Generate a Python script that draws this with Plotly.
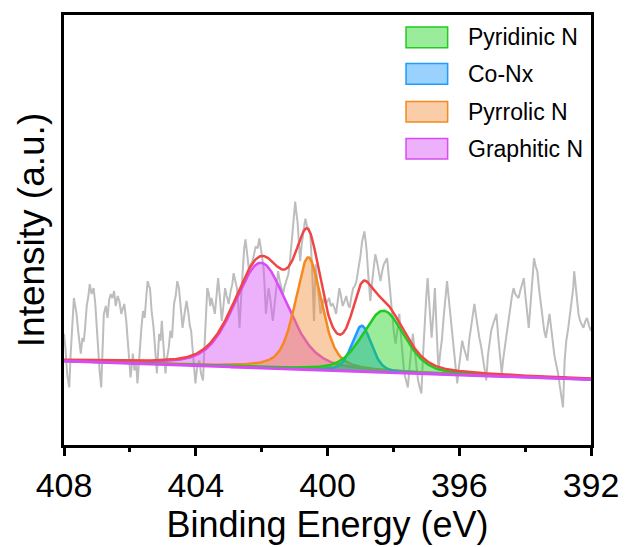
import numpy as np
import plotly.graph_objects as go

# ---------------- data ----------------
# raw N 1s spectrum: binding energy (eV) and intensity (a.u.)
be_raw = [
    408.00, 407.95, 407.90, 407.84, 407.80, 407.75, 407.70, 407.66, 407.62, 407.57,
    407.52, 407.49, 407.44, 407.40, 407.36, 407.31, 407.26, 407.22, 407.16, 407.10,
    407.05, 407.01, 406.97, 406.92, 406.87, 406.83, 406.79, 406.73, 406.68, 406.63,
    406.58, 406.53, 406.48, 406.43, 406.37, 406.32, 406.26, 406.21, 406.17, 406.11,
    406.06, 406.02, 405.98, 405.94, 405.91, 405.86, 405.81, 405.77, 405.72, 405.68,
    405.65, 405.60, 405.55, 405.50, 405.46, 405.42, 405.39, 405.34, 405.28, 405.23,
    405.18, 405.14, 405.11, 405.07, 405.03, 404.98, 404.92, 404.87, 404.82, 404.77,
    404.72, 404.66, 404.61, 404.56, 404.51, 404.46, 404.40, 404.35, 404.28, 404.22,
    404.18, 404.14, 404.09, 404.05, 404.01, 403.96, 403.89, 403.84, 403.78, 403.74,
    403.70, 403.65, 403.60, 403.56, 403.52, 403.47, 403.42, 403.37, 403.32, 403.27,
    403.21, 403.16, 403.11, 403.06, 403.00, 402.94, 402.89, 402.85, 402.80, 402.75,
    402.71, 402.67, 402.62, 402.57, 402.53, 402.49, 402.44, 402.38, 402.33, 402.28,
    402.23, 402.18, 402.12, 402.07, 402.01, 401.94, 401.91, 401.87, 401.83, 401.79,
    401.74, 401.70, 401.66, 401.61, 401.55, 401.50, 401.45, 401.40, 401.35, 401.30,
    401.24, 401.19, 401.14, 401.09, 401.04, 400.98, 400.95, 400.91, 400.87, 400.83,
    400.79, 400.74, 400.70, 400.67, 400.62, 400.57, 400.52, 400.47, 400.43, 400.41,
    400.38, 400.36, 400.31, 400.26, 400.21, 400.16, 400.11, 400.05, 400.00, 399.95,
    399.90, 399.84, 399.79, 399.74, 399.69, 399.64, 399.59, 399.54, 399.48, 399.43,
    399.38, 399.33, 399.27, 399.22, 399.17, 399.12, 399.06, 399.00, 398.95, 398.91,
    398.88, 398.84, 398.81, 398.76, 398.72, 398.70, 398.66, 398.60, 398.55, 398.50,
    398.44, 398.39, 398.34, 398.29, 398.24, 398.19, 398.14, 398.08, 398.03, 397.98,
    397.93, 397.87, 397.82, 397.77, 397.72, 397.67, 397.62, 397.56, 397.51, 397.46,
    397.41, 397.36, 397.30, 397.25, 397.20, 397.15, 397.10, 397.05, 397.00, 396.96,
    396.91, 396.84, 396.79, 396.74, 396.69, 396.63, 396.58, 396.53, 396.47, 396.42,
    396.37, 396.32, 396.27, 396.22, 396.16, 396.11, 396.06, 396.01, 395.96, 395.91,
    395.86, 395.80, 395.75, 395.70, 395.64, 395.59, 395.54, 395.49, 395.44, 395.39,
    395.34, 395.28, 395.23, 395.18, 395.13, 395.08, 395.03, 394.97, 394.92, 394.87,
    394.82, 394.76, 394.71, 394.66, 394.61, 394.56, 394.50, 394.45, 394.40, 394.35,
    394.30, 394.25, 394.20, 394.15, 394.09, 394.04, 393.99, 393.94, 393.89, 393.84,
    393.78, 393.73, 393.68, 393.63, 393.58, 393.52, 393.47, 393.42, 393.37, 393.32,
    393.26, 393.21, 393.16, 393.11, 393.05, 393.00, 392.95, 392.90, 392.85, 392.80,
    392.75, 392.69, 392.64, 392.59, 392.54, 392.51, 392.47, 392.43, 392.38, 392.33,
    392.28, 392.23, 392.17, 392.12, 392.06, 392.00]
int_raw = [
    112, 95, 70, 58, 90, 120, 148, 140, 132, 115,
    100, 92, 108, 104, 118, 140, 150, 162, 152, 158,
    142, 120, 98, 75, 58, 95, 132, 140, 128, 146,
    152, 148, 155, 140, 150, 145, 132, 138, 142, 125,
    102, 85, 68, 80, 92, 75, 85, 62, 90, 105,
    118, 135, 128, 150, 165, 160, 158, 135, 118, 95,
    72, 95, 112, 105, 125, 100, 72, 88, 98, 115,
    108, 142, 150, 165, 158, 140, 118, 130, 145, 132,
    120, 115, 95, 75, 62, 78, 85, 72, 65, 95,
    130, 158, 152, 140, 148, 138, 132, 150, 168, 150,
    125, 140, 158, 150, 142, 155, 162, 173, 165, 158,
    140, 118, 150, 180, 198, 207, 190, 175, 182, 185,
    192, 200, 198, 208, 195, 178, 160, 132, 145, 158,
    148, 135, 125, 140, 160, 175, 165, 158, 152, 160,
    168, 172, 185, 202, 225, 245, 235, 225, 205, 185,
    200, 215, 222, 228, 220, 218, 212, 180, 145, 125,
    160, 182, 165, 150, 132, 140, 148, 142, 145, 148,
    140, 142, 138, 132, 145, 158, 150, 140, 145, 150,
    142, 138, 150, 158, 160, 165, 178, 190, 205, 212,
    215, 205, 195, 170, 152, 145, 160, 178, 192, 185,
    172, 165, 175, 182, 185, 188, 170, 145, 125, 112,
    102, 118, 132, 110, 88, 72, 66, 58, 78, 95,
    112, 98, 80, 65, 58, 52, 90, 125, 150, 168,
    140, 108, 130, 158, 118, 75, 92, 105, 130, 150,
    165, 148, 130, 118, 98, 80, 62, 78, 92, 105,
    98, 90, 85, 105, 118, 130, 142, 130, 118, 108,
    100, 88, 75, 65, 90, 105, 115, 122, 128, 132,
    110, 90, 72, 88, 100, 115, 130, 142, 150, 158,
    152, 150, 148, 155, 162, 168, 150, 135, 118, 140,
    165, 188, 180, 175, 158, 140, 125, 115, 108, 118,
    132, 118, 102, 90, 80, 72, 60, 48, 38, 85,
    105, 118, 132, 145, 158, 175, 160, 145, 132, 125,
    122, 118, 125, 128, 120, 115]

# linear background (intensity at 408 eV and at 392 eV)
bg_energy = [408.0, 392.0]
bg_level = [84.5, 66.0]

# fitted components
comp_names = ["Pyridinic N", "Co-Nx", "Pyrrolic N", "Graphitic N"]
comp_center = [398.30, 398.96, 400.58, 402.02]
comp_height = [62, 46, 113, 106]
comp_fwhm = [1.50, 0.70, 0.95, 1.90]
comp_lmix = [0.35, 0.35, 0.50, 0.35]

# ---------------- styles ----------------
line_cols = ["#1ECB1E", "#1E9BFF", "#F5891F", "#D84CF5"]
fill_cols = ["rgba(30,210,30,0.45)", "rgba(30,155,255,0.45)",
             "rgba(240,135,45,0.42)", "rgba(215,80,245,0.45)"]
FONT = "Liberation Sans, Arial, sans-serif"

E = np.linspace(408, 392, 801)
base = np.interp(E, bg_energy[::-1], bg_level[::-1])


def pvoigt(x, c, h, w, m):
    t = 4.0 * ((x - c) / w) ** 2
    return h * ((1 - m) * np.exp(-np.log(2) * t) + m / (1 + t))


comps = [pvoigt(E, c, h, w, m) for c, h, w, m in
         zip(comp_center, comp_height, comp_fwhm, comp_lmix)]
envelope = base + np.sum(comps, axis=0)

fig = go.Figure()
fig.add_trace(go.Scatter(x=be_raw, y=int_raw, mode="lines",
                         line=dict(color="#BDBDBD", width=2), showlegend=False))

for i in [3, 2, 1, 0]:
    fig.add_trace(go.Scatter(x=E, y=base, mode="lines", line=dict(width=0),
                             showlegend=False, hoverinfo="skip"))
    fig.add_trace(go.Scatter(x=E, y=base + comps[i], mode="lines", fill="tonexty",
                             fillcolor=fill_cols[i], line=dict(color=line_cols[i], width=2.5),
                             name=comp_names[i], showlegend=False))

fig.add_trace(go.Scatter(x=E, y=envelope, mode="lines",
                         line=dict(color="#F04545", width=2.5), showlegend=False))
fig.add_trace(go.Scatter(x=E, y=base, mode="lines",
                         line=dict(color="#D84CF5", width=3), showlegend=False))

# manual legend (boxes + labels in paper coordinates)
leg_y = [0.948, 0.863, 0.775, 0.689]
for i, name in enumerate(comp_names):
    fig.add_shape(type="rect", xref="paper", yref="paper",
                  x0=0.649, x1=0.728, y0=leg_y[i] - 0.024, y1=leg_y[i] + 0.024,
                  fillcolor=fill_cols[i], line=dict(color=line_cols[i], width=1.5))
    fig.add_annotation(xref="paper", yref="paper", x=0.762, y=leg_y[i],
                       text=name, showarrow=False, xanchor="left", yanchor="middle",
                       font=dict(family=FONT, size=23, color="black"))

fig.update_layout(
    width=631, height=547,
    margin=dict(l=64, r=35, t=15, b=98),
    paper_bgcolor="white", plot_bgcolor="white",
    font=dict(family=FONT, color="black"),
    xaxis=dict(range=[408, 392], tickvals=[408, 404, 400, 396, 392],
               ticks="outside", ticklen=8, tickwidth=2.5, tickcolor="black",
               minor=dict(tickvals=[406, 402, 398, 394], ticks="outside", ticklen=4,
                          tickwidth=2.5, tickcolor="black"),
               showline=True, linewidth=3, linecolor="black", mirror=True,
               showgrid=False, zeroline=False,
               tickfont=dict(family=FONT, size=34, color="black"),
               title=dict(text="Binding Energy (eV)", standoff=6,
                          font=dict(family=FONT, size=36, color="black"))),
    yaxis=dict(range=[0, 433], showticklabels=False, ticks="",
               showline=True, linewidth=3, linecolor="black", mirror=True,
               showgrid=False, zeroline=False,
               title=dict(text="Intensity (a.u.)", standoff=6,
                          font=dict(family=FONT, size=37, color="black"))),
)

fig.write_html("out.html")
